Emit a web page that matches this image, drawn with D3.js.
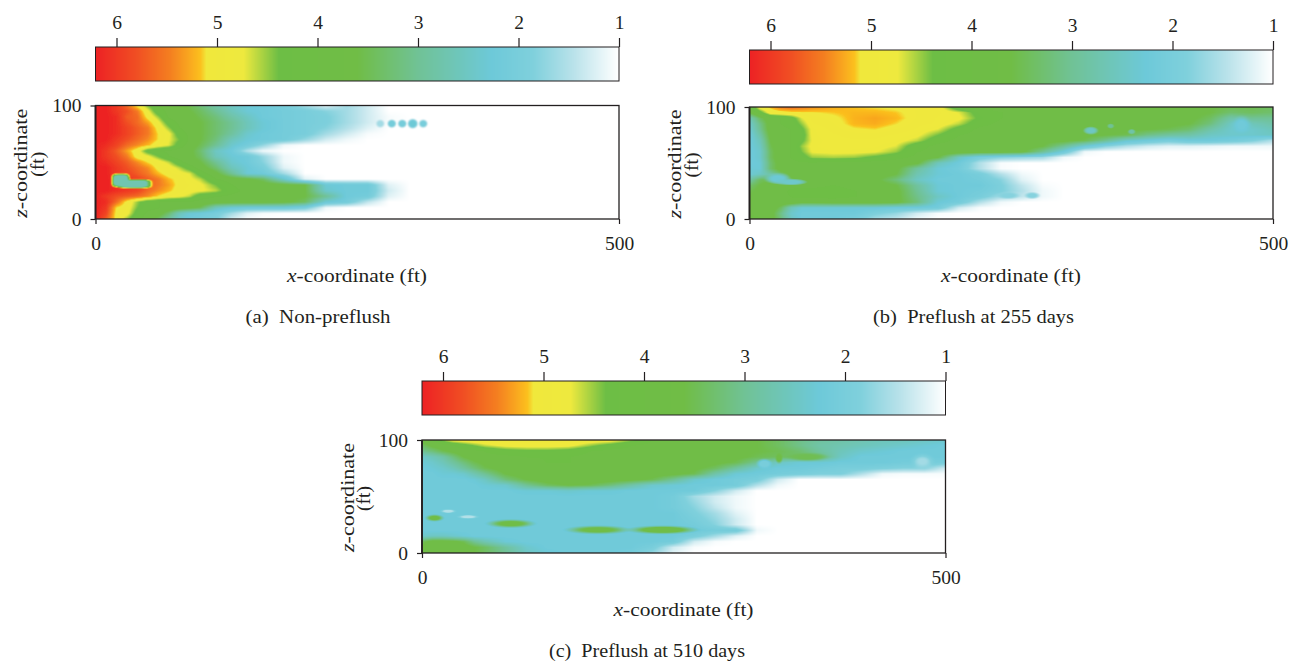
<!DOCTYPE html>
<html>
<head>
<meta charset="utf-8">
<script src="https://d3js.org/d3.v7.min.js"></script>
<style>
	body { margin: 0; background: #fff; }
	svg { display: block; }
	text { font-family: "Liberation Serif", serif; fill: #231f20; }
</style>
</head>
<body>
<script>
// colour bar, value -> colour
var barTicks = [6, 5, 4, 3, 2, 1];
var colorValues = [1, 1.45, 1.85, 2.26, 3.0, 3.6, 4.38, 4.73, 5.1, 5.16, 5.28, 5.46, 5.8, 6.2];
var colorHexes = ["#ffffff", "#b9e2ea", "#7fd0dc", "#6dc9d9", "#70c295", "#70bd46", "#6dbe45", "#eee93e", "#f0e83c", "#fbc01e", "#f9a51f", "#f47f20", "#f04e23", "#ed2224"];

// depth rows shared by all three panels (ft)
var zRows = [100, 95, 90, 85, 80, 75, 70, 65, 60, 55, 50, 45, 40, 35, 30, 25, 20, 15, 10, 5, 0];

// columns (ft). rows below stop once the field has reached 1
var xColsA = [0, 10, 20, 30, 40, 50, 60, 70, 80, 90, 100, 115, 130, 145, 160, 180, 200, 220, 240, 260, 280, 300, 320, 340, 400, 500];
var xColsBC = [0, 10, 20, 30, 40, 50, 60, 80, 100, 120, 140, 160, 180, 200, 220, 240, 260, 280, 300, 320, 340, 360, 380, 400, 420, 440, 460, 480, 500];

var gridA = [
	[6.2,6.2,6.0,5.6,5.0,4.4,4.0,3.9,3.7,3.5,3.2,2.8,2.5,2.3,2.2,2.0,1.6,1.2,1.6,1.3,1],
	[6.2,6.2,6.0,5.8,5.5,4.8,4.1,3.9,3.8,3.6,3.4,3.0,2.6,2.3,2.2,2.1,2.0,1.8,1.6,1.3,1],
	[6.2,6.2,6.1,5.7,5.6,5.0,4.5,3.9,3.8,3.7,3.5,3.2,2.8,2.5,2.2,2.1,2.0,1.9,1.6,1.3,1.05,1],
	[6.2,6.2,6.1,5.8,5.6,5.3,4.8,4.2,3.9,3.7,3.6,3.3,3.0,2.6,2.3,2.1,2.0,1.9,1.6,1.3,1.05,1],
	[6.2,6.2,6.1,5.9,5.7,5.5,5.0,4.5,4.0,3.8,3.6,3.3,3.0,2.6,2.3,2.1,2.0,1.8,1.5,1.2,1],
	[6.2,6.2,6.1,5.9,5.7,5.5,5.1,4.8,4.2,3.9,3.6,3.3,2.9,2.4,2.2,2.1,2.0,1.6,1.3,1.05,1],
	[6.2,6.2,6.0,5.8,5.6,5.4,5.1,4.75,4.4,3.9,3.6,3.2,2.6,2.3,2.2,2.1,1.7,1.3,1.1,1],
	[6.2,6.1,5.9,5.6,5.4,5.2,4.9,4.7,4.2,3.8,3.5,3.0,2.4,2.1,1.7,1.1,1],
	[6.2,6.0,5.7,5.3,4.9,4.2,4.0,3.9,3.8,3.7,3.3,2.5,2.2,1.5,1.1,1],
	[6.2,6.0,5.8,5.5,4.95,4.8,4.4,4.0,3.8,3.7,3.4,2.6,2.3,2.2,1.7,1.1,1],
	[6.2,6.1,5.9,5.7,5.4,5.1,4.9,4.6,4.1,3.8,3.6,3.0,2.4,2.2,1.8,1.1,1],
	[6.2,6.2,6.0,5.8,5.6,5.4,5.0,4.9,4.6,4.2,3.8,3.3,2.6,2.3,2.0,1.2,1],
	[6.2,6.2,6.0,5.9,5.7,5.5,5.2,4.95,4.85,4.7,4.2,3.7,3.0,2.3,2.2,1.6,1],
	[6.2,6.2,6.1,6.0,5.9,5.7,5.5,5.2,5.0,4.8,4.6,4.0,3.8,3.7,3.4,2.4,1.2,1],
	[6.2,6.2,6.1,6.0,5.9,5.7,5.5,5.3,5.0,4.9,4.8,4.4,4.0,3.8,3.8,3.7,3.6,2.3,2.2,2.2,1.2,1],
	[6.2,6.2,6.1,6.0,5.9,5.6,5.4,5.2,4.95,4.85,4.8,4.6,4.1,3.9,3.8,3.7,3.6,2.4,2.2,2.2,1.3,1],
	[6.2,6.0,5.8,5.7,5.6,5.4,5.1,4.9,4.8,4.6,4.1,4.0,3.9,3.8,3.8,3.7,3.6,3.0,2.2,2.1,1.2,1],
	[6.2,6.1,5.6,5.0,4.5,4.1,4.0,3.9,3.9,3.9,3.9,3.8,3.8,3.8,3.8,3.7,3.4,2.3,2.1,1.4,1],
	[6.2,6.0,5.1,4.9,4.4,4.1,4.0,3.9,3.8,3.7,3.5,2.6,2.3,2.2,2.2,2.2,2.0,1.1,1],
	[6.2,5.9,5.0,4.85,4.2,3.9,3.8,3.3,2.6,2.3,2.2,2.0,1.6,1.2,1.05,1],
	[6.2,5.7,5.0,4.5,4.0,3.9,3.4,2.9,2.4,2.2,2.1,1.9,1.3,1.05,1]
];

var gridB = [
	[3.8,4.9,5.2,5.5,5.6,5.5,5.4,5.25,5.15,5.1,5.05,5.0,4.9,4.0,3.9,3.8,3.9,3.9,3.8,3.8,3.8,3.7,3.7,3.7,3.7,3.6,3.5,3.5,3.4],
	[3.6,4.2,4.9,5.0,5.05,5.1,5.1,5.15,5.2,5.2,5.15,5.0,4.95,4.7,4.2,4.0,3.9,3.9,3.9,3.8,3.8,3.8,3.7,3.7,3.7,3.6,3.3,3.4,3.3],
	[2.6,3.4,3.9,4.0,4.2,4.7,4.95,5.05,5.22,5.28,5.2,5.0,4.9,4.8,4.3,4.0,3.9,3.9,3.9,3.9,3.85,3.9,3.8,3.8,3.7,3.4,2.8,3.0,3.0],
	[2.4,3.1,3.8,4.0,4.1,4.5,4.9,5.0,5.2,5.25,5.12,4.95,4.9,4.6,4.1,3.9,3.9,3.9,3.8,3.8,3.7,3.8,3.8,3.7,3.6,3.2,2.5,2.6,2.8],
	[2.3,3.0,3.8,3.9,4.0,4.3,4.8,4.95,5.08,5.12,5.0,4.9,4.7,4.2,3.9,3.9,3.8,3.8,3.8,3.7,3.7,3.7,3.6,3.5,3.3,2.8,2.4,2.4,2.6],
	[2.2,2.8,3.7,3.9,4.0,4.2,4.8,4.9,4.95,4.95,4.9,4.8,4.4,4.0,3.9,3.8,3.8,3.8,3.8,3.7,3.6,3.5,3.1,2.9,2.8,2.5,2.4,2.4,2.5],
	[2.2,2.6,3.6,3.9,4.0,4.3,4.75,4.9,4.9,4.9,4.85,4.6,4.1,3.9,3.9,3.8,3.8,3.7,3.7,3.5,3.0,2.4,2.2,2.0,2.2,2.2,2.1,1.9,1.5],
	[2.2,2.5,3.5,3.9,4.0,4.5,4.8,4.9,4.85,4.85,4.7,4.1,3.9,3.9,3.8,3.8,3.8,3.6,3.0,2.3,1.8,1.5,1.3,1.2,1.2,1.15,1.1,1.1,1.1],
	[2.2,2.4,3.4,3.9,4.0,4.4,4.75,4.8,4.8,4.75,4.5,4.0,3.9,3.9,3.8,3.8,3.7,3.0,2.2,1.1,1],
	[2.2,2.4,3.4,3.9,4.0,4.2,4.5,4.55,4.5,4.3,4.1,3.9,3.6,2.5,2.0,1.8,1.7,1.6,1.1,1],
	[2.2,2.3,3.3,3.8,3.9,3.95,3.95,3.9,3.9,3.85,3.8,3.7,2.6,2.2,1.5,1.05,1],
	[2.3,2.3,3.3,3.8,3.9,3.95,3.95,3.9,3.9,3.8,3.7,2.9,2.3,2.1,1.5,1.05,1],
	[2.3,2.5,2.8,3.3,3.7,3.9,3.9,3.9,3.9,3.8,3.6,2.7,2.3,2.2,2.0,1.5,1.1,1],
	[2.8,3.4,3.6,3.6,3.7,3.8,3.9,3.9,3.9,3.7,3.2,2.5,2.2,2.2,2.1,1.8,1.2,1],
	[3.3,3.6,3.8,3.8,3.9,3.9,3.9,4.0,3.9,3.8,3.6,2.9,2.3,2.2,2.2,1.9,1.4,1.05,1],
	[3.5,3.7,3.8,3.9,4.05,4.1,4.1,4.1,4.0,3.9,3.7,3.0,2.3,2.2,2.1,1.9,1.5,1.1,1],
	[3.6,3.8,3.8,3.9,4.0,4.1,4.1,4.1,4.0,3.9,3.7,3.1,2.5,2.2,2.0,1.6,1.4,1.1,1],
	[3.6,3.8,3.9,3.9,3.9,3.7,3.7,3.8,3.8,3.8,3.7,3.2,2.3,2.1,1.5,1.1,1],
	[3.7,3.8,3.9,3.4,2.6,2.3,2.3,2.3,2.3,2.3,2.2,2.2,2.1,1.3,1.05,1],
	[3.8,3.9,3.8,3.1,2.4,2.2,2.2,2.2,2.2,1.9,1.7,1.3,1.05,1],
	[4.4,4.0,3.8,3.2,2.5,2.2,2.2,2.2,2.0,1.6,1.4,1.1,1]
];

var gridC = [
	[3.9,4.0,4.5,4.85,4.95,5.0,5.0,5.0,5.0,5.0,5.0,4.95,4.9,4.5,4.0,3.9,3.8,3.8,3.7,3.6,3.4,3.1,2.9,2.8,2.7,2.6,2.6,2.5,2.4],
	[3.3,3.7,3.9,4.0,4.2,4.4,4.6,4.8,4.85,4.85,4.8,4.5,4.2,4.0,3.9,3.9,3.8,3.8,3.7,3.6,3.4,3.1,2.8,2.7,2.6,2.5,2.4,2.3,2.2],
	[3.0,3.2,3.5,3.7,3.9,3.9,4.0,4.2,4.3,4.3,4.2,4.0,3.9,3.9,3.9,3.9,3.8,3.8,3.7,3.6,3.5,3.3,2.9,2.6,2.4,2.3,2.2,2.2,2.2],
	[2.4,2.6,2.8,3.2,3.6,3.8,3.9,3.9,4.0,4.0,4.0,3.9,3.9,3.9,3.9,3.9,3.8,3.8,3.7,3.5,3.4,3.4,3.2,2.5,2.2,2.2,2.2,2.2,2.2],
	[2.3,2.4,2.6,2.9,3.2,3.5,3.7,3.9,3.9,4.0,4.0,3.9,3.9,3.9,3.9,3.9,3.8,3.7,3.5,3.0,2.5,2.3,2.3,2.2,2.2,2.2,2.1,2.1,2.0],
	[2.2,2.3,2.4,2.6,2.9,3.2,3.5,3.8,3.9,3.9,3.9,3.9,3.9,3.9,3.8,3.8,3.7,3.4,2.9,2.4,2.2,2.2,2.1,2.0,2.0,1.9,1.8,1.8,1.3],
	[2.2,2.2,2.3,2.3,2.4,2.7,3.0,3.6,3.85,3.9,3.9,3.9,3.9,3.8,3.8,3.7,3.5,2.8,2.3,2.2,2.1,2.0,1.9,1.9,1.5,1.1,1.05,1.05,1.05],
	[2.2,2.2,2.2,2.2,2.2,2.3,2.5,3.2,3.6,3.85,3.9,3.9,3.8,3.7,3.5,3.0,2.4,2.2,2.1,2.0,1.3,1],
	[2.2,2.2,2.2,2.2,2.2,2.2,2.3,2.4,3.0,3.4,3.6,3.5,3.2,2.8,2.4,2.3,2.2,2.2,2.1,1.5,1.1,1],
	[2.2,2.2,2.2,2.2,2.2,2.2,2.2,2.2,2.3,2.3,2.4,2.3,2.3,2.2,2.2,2.2,2.2,1.8,1.3,1],
	[2.2,2.2,2.2,2.2,2.2,2.2,2.2,2.2,2.2,2.2,2.2,2.2,2.2,2.2,2.2,2.1,1.6,1.3,1.1,1],
	[2.2,2.2,2.2,2.2,2.2,2.2,2.2,2.2,2.2,2.2,2.2,2.2,2.2,2.2,2.2,2.1,1.7,1.3,1.1,1],
	[2.2,2.2,2.2,2.2,2.2,2.2,2.2,2.2,2.2,2.2,2.2,2.2,2.2,2.2,2.2,2.1,1.8,1.4,1.1,1],
	[2.2,2.2,2.2,2.2,2.2,2.2,2.2,2.2,2.2,2.2,2.2,2.2,2.2,2.2,2.2,2.2,1.9,1.6,1.2,1],
	[2.2,2.2,2.2,2.2,2.2,2.2,2.2,2.2,2.2,2.2,2.2,2.2,2.2,2.2,2.2,2.2,2.0,1.7,1.3,1],
	[2.2,2.2,2.2,2.2,2.2,2.2,2.2,2.2,2.2,2.2,2.2,2.2,2.2,2.2,2.2,2.2,2.1,1.8,1.3,1],
	[2.2,2.2,2.2,2.2,2.2,2.2,2.2,2.2,2.2,2.2,2.2,2.2,2.2,2.2,2.2,2.2,2.2,2.1,2.1,1.1,1],
	[2.4,2.5,2.5,2.4,2.3,2.2,2.2,2.2,2.2,2.2,2.2,2.2,2.2,2.2,2.2,2.2,2.0,1.6,1.2,1],
	[3.4,3.8,3.8,3.7,3.5,3.0,2.7,2.3,2.2,2.2,2.2,2.2,2.2,2.2,2.2,2.1,1.3,1.05,1],
	[3.7,3.9,3.9,3.8,3.8,3.6,3.4,2.9,2.4,2.2,2.2,2.2,2.2,2.2,2.0,1.3,1.05,1],
	[3.9,3.9,3.9,3.8,3.7,3.6,3.4,3.0,2.5,2.3,2.2,2.2,2.2,2.1,1.7,1.2,1]
];

// small features finer than the grid: x, z, half width, half height (ft), value, edge softness
var spotsA = [[24,34,8,5.5,2.7,0.55],[37,31,15,3.6,2.7,0.55],[272,84,3.5,3,1.6,1],[283,84,3.5,3,2.1,1],[293,84,3.5,3,2.1,1],[303,84,4,3.5,2.3,1],[313,84,3.5,3,2.0,1]];
var spotsB = [[27,36,10,4,2.3,1],[40,33,13,2.5,2.4,1],[326,79,6,3,2.5,1],[345,83,3,2,3.0,1],[365,78,3,2,2.8,1],[247,21,9,2.5,1.8,1],[270,21,6,2.5,1.8,1],[470,84,7,6,2.2,1.2]];
var spotsC = [[12,31,7,2.5,3.6,1],[85,26,18,3,3.6,1],[168,20.5,24,3,3.6,1],[230,20.5,26,3,3.8,1],[25,37,6,1.5,1.5,1],[44,32,8,1.5,1.5,1],[327,79,6,3.5,2.0,1],[341,84,3,4,3.6,1],[368,85,16,3,3.5,1],[478,81,8,5,1.6,1.4]];

var xTicks = [0, 500];
var zTicks = [0, 100];

var panels = [
	{ caption: "(a)  Non-preflush", capLen: 145, cols: xColsA, grid: gridA, spots: spotsA, left: 95.5, barTop: 47, frameTop: 105.5, frameBottom: 219, captionX: 318 },
	{ caption: "(b)  Preflush at 255 days", capLen: 201, cols: xColsBC, grid: gridB, spots: spotsB, left: 749.5, barTop: 50, frameTop: 107, frameBottom: 219, captionX: 973.5 },
	{ caption: "(c)  Preflush at 510 days", capLen: 196, cols: xColsBC, grid: gridC, spots: spotsC, left: 422, barTop: 381, frameTop: 440, frameBottom: 553, captionX: 647 }
];

var width = 1290, height = 662, plotW = 523.5, barH = 34, pad = 4, fontPx = "19.5px";

var color = d3.scaleLinear().domain(colorValues).range(colorHexes).clamp(true);

var svg = d3.select("body").append("svg")
	.attr("width", width)
	.attr("height", height);

var defs = svg.append("defs");
defs.append("filter").attr("id", "soft")
	.attr("x", "-2%").attr("y", "-5%").attr("width", "104%").attr("height", "110%")
	.append("feGaussianBlur").attr("stdDeviation", 0.7);

// bilinear lookup in value space, so colours pass through the bar in order
function fieldValue(p, x, z) {
	var cols = p.cols;
	var i = Math.min(d3.bisectRight(cols, x) - 1, cols.length - 2);
	i = Math.max(i, 0);
	var j = Math.floor((100 - z) / 5);
	j = Math.max(0, Math.min(j, zRows.length - 2));
	var tx = Math.max(0, Math.min(1, (x - cols[i]) / (cols[i + 1] - cols[i])));
	var tz = Math.max(0, Math.min(1, (zRows[j] - z) / 5));
	function at(r, c) {
		var v = p.grid[r][c];
		return v === undefined ? 1 : v;
	}
	var v = (1 - tz) * ((1 - tx) * at(j, i) + tx * at(j, i + 1)) + tz * ((1 - tx) * at(j + 1, i) + tx * at(j + 1, i + 1));
	p.spots.forEach(function (s) {
		// hard-edged spots are squarer, the soft ones stay elliptical
		var n = s[5] < 1 ? 4 : 2;
		var d = Math.pow(Math.pow(Math.abs(x - s[0]) / s[2], n) + Math.pow(Math.abs(z - s[1]) / s[3], n), 1 / n);
		var w = Math.max(0, Math.min(1, (1 + s[5] / 2 - d) / s[5]));
		v += (s[4] - v) * w * w * (3 - 2 * w);
	});
	return v;
}

function drawField(p, g, xScale, zScale) {
	var w = Math.ceil(plotW) + pad * 2, h = Math.ceil(p.frameBottom - p.frameTop) + pad * 2;
	var canvas = document.createElement("canvas");
	canvas.width = w;
	canvas.height = h;
	var ctx = canvas.getContext("2d");
	var img = ctx.createImageData(w, h);
	for (var row = 0; row < h; row++) {
		for (var col = 0; col < w; col++) {
			var x = Math.max(0, Math.min(500, xScale.invert(p.left + col - pad + 0.5)));
			var z = Math.max(0, Math.min(100, zScale.invert(p.frameTop + row - pad + 0.5)));
			var c = d3.rgb(color(fieldValue(p, x, z)));
			var k = (row * w + col) * 4;
			img.data[k] = c.r;
			img.data[k + 1] = c.g;
			img.data[k + 2] = c.b;
			img.data[k + 3] = 255;
		}
	}
	ctx.putImageData(img, 0, 0);
	var id = "clip" + Math.round(p.left);
	defs.append("clipPath").attr("id", id).append("rect")
		.attr("x", p.left).attr("y", p.frameTop)
		.attr("width", plotW).attr("height", p.frameBottom - p.frameTop);
	g.append("g").attr("clip-path", "url(#" + id + ")")
		.append("image")
		.attr("x", p.left - pad).attr("y", p.frameTop - pad)
		.attr("width", w).attr("height", h)
		.attr("filter", "url(#soft)")
		.attr("href", canvas.toDataURL());
}

function styleAxis(a) {
	a.selectAll("text").style("font-size", fontPx).style("font-family", "Liberation Serif");
	a.selectAll("line").attr("stroke", "#231f20").attr("stroke-width", 1.2);
	a.select(".domain").remove();
}

panels.forEach(function (p) {
	var g = svg.append("g");
	var xScale = d3.scaleLinear().domain([0, 500]).range([p.left, p.left + plotW]);
	var zScale = d3.scaleLinear().domain([0, 100]).range([p.frameBottom, p.frameTop]);
	var barScale = d3.scaleLinear().domain([1, 6]).range([p.left + plotW, p.left + plotW - 502.5]);

	// colour bar
	d3.range(0, plotW).forEach(function (i) {
		g.append("rect")
			.attr("x", Math.floor(p.left) + i).attr("y", p.barTop)
			.attr("width", 2).attr("height", barH)
			.attr("shape-rendering", "crispEdges")
			.attr("fill", color(barScale.invert(p.left + i + 0.5)));
	});
	g.append("rect")
		.attr("x", p.left).attr("y", p.barTop)
		.attr("width", plotW).attr("height", barH)
		.attr("fill", "none").attr("stroke", "#231f20").attr("stroke-width", 1);
	g.append("g").attr("transform", "translate(0," + p.barTop + ")")
		.call(d3.axisTop(barScale).tickValues(barTicks).tickSize(9).tickPadding(9).tickFormat(d3.format("d")))
		.call(styleAxis);

	// field and frame
	drawField(p, g, xScale, zScale);
	g.append("rect")
		.attr("x", p.left).attr("y", p.frameTop)
		.attr("width", plotW).attr("height", p.frameBottom - p.frameTop)
		.attr("fill", "none").attr("stroke", "#231f20").attr("stroke-width", 1.3);
	g.append("line")
		.attr("x1", p.left).attr("x2", p.left)
		.attr("y1", p.frameTop).attr("y2", p.frameBottom)
		.attr("stroke", "#231f20").attr("stroke-width", 1.8);
	g.append("g").attr("transform", "translate(0," + p.frameBottom + ")")
		.call(d3.axisBottom(xScale).tickValues(xTicks).tickSize(5).tickPadding(12).tickFormat(d3.format("d")))
		.call(styleAxis);
	g.append("g").attr("transform", "translate(" + p.left + ",0)")
		.call(d3.axisLeft(zScale).tickValues(zTicks).tickSize(5).tickPadding(9).tickFormat(d3.format("d")))
		.call(styleAxis);

	// labels
	var xLabel = g.append("text")
		.attr("x", p.left + 261.5).attr("y", p.frameBottom + 63)
		.attr("text-anchor", "middle").style("font-size", fontPx)
		.attr("textLength", 140).attr("lengthAdjust", "spacingAndGlyphs");
	xLabel.append("tspan").style("font-style", "italic").text("x");
	xLabel.append("tspan").text("-coordinate (ft)");

	var midZ = (p.frameTop + p.frameBottom) / 2;
	var zLabel = g.append("text")
		.attr("transform", "translate(" + (p.left - 68.5) + "," + (midZ + 1) + ") rotate(-90)")
		.attr("text-anchor", "middle").style("font-size", fontPx)
		.attr("textLength", 109).attr("lengthAdjust", "spacingAndGlyphs");
	zLabel.append("tspan").style("font-style", "italic").text("z");
	zLabel.append("tspan").text("-coordinate");
	g.append("text")
		.attr("transform", "translate(" + (p.left - 52) + "," + (midZ + 2) + ") rotate(-90)")
		.attr("text-anchor", "middle").style("font-size", fontPx)
		.text("(ft)");

	g.append("text")
		.attr("x", p.captionX).attr("y", p.frameBottom + 104)
		.attr("text-anchor", "middle").style("font-size", "19px")
		.attr("textLength", p.capLen).attr("lengthAdjust", "spacingAndGlyphs")
		.attr("xml:space", "preserve")
		.text(p.caption);
});
</script>
</body>
</html>
